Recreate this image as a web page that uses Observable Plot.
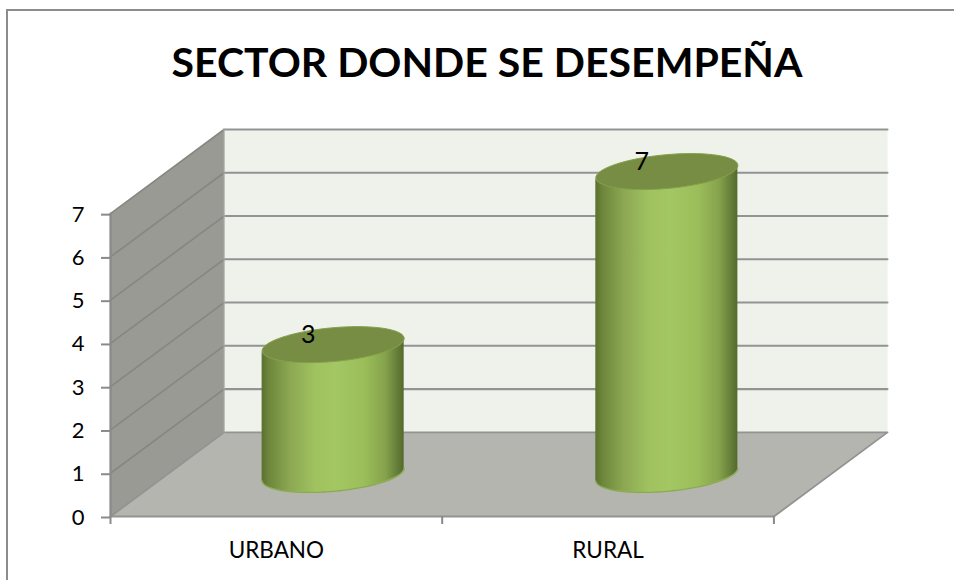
<!DOCTYPE html>
<html>
<head>
<meta charset="utf-8">
<script src="https://cdn.jsdelivr.net/npm/d3@7"></script>
<script src="https://cdn.jsdelivr.net/npm/@observablehq/plot@0.6"></script>
<style>
  html, body { margin: 0; padding: 0; background: #fff; overflow: hidden; }
  #page { position: relative; width: 954px; height: 580px; overflow: hidden; font-family: Lato, "Open Sans", sans-serif; }
  #frame { position: absolute; left: 6px; top: 9px; width: 1000px; height: 620px; border: 2px solid #8c8c8c; box-sizing: content-box; }
  #title { position: absolute; left: 0; top: 0; width: 954px; height: 100px; margin: 0; text-align: center; padding-left: 20px; box-sizing: border-box;
           font: 700 41px/124px Lato, sans-serif; color: #000; }
  #chart { position: absolute; left: 0; top: 100px; }
  #chart svg { display: block; }
</style>
</head>
<body>
<div id="page">
  <div id="frame"></div>
  <h1 id="title">SECTOR DONDE SE DESEMPEÑA</h1>
  <div id="chart"></div>
</div>
<script>
const categories = ["URBANO", "RURAL"];
const values = [3, 7];
const barPositions = [0, 1.006];
const yTicks = [0, 1, 2, 3, 4, 5, 6, 7];
const gridValues = [1, 2, 3, 4, 5, 6, 7];

// 3D box, in data units: how far the back plane is shifted from the front plane.
const depthX = 0.3424;
const depthY = 1.945;
const xMin = -0.5, xMax = 1.5, yMax = 7;
const radiusX = 0.2012, radiusDepth = 0.214, centerDepth = 0.5;

const project = (x, y, d) => ({x: x + d * depthX, y: y + d * depthY});
const poly = (corners) => corners.map(([x, y, d]) => project(x, y, d));

const leftWall = poly([[xMin,0,0],[xMin,yMax,0],[xMin,yMax,1],[xMin,0,1]]);
const backWall = poly([[xMin,0,1],[xMin,yMax,1],[xMax,yMax,1],[xMax,0,1]]);
const floor = poly([[xMin,0,0],[xMax,0,0],[xMax,0,1],[xMin,0,1]]);

const wallLines = gridValues.flatMap(v => poly([[xMin,v,0],[xMin,v,1]]).map(p => ({...p, v})));
const backLines = gridValues.flatMap(v => poly([[xMin,v,1],[xMax,v,1]]).map(p => ({...p, v})));

const rim = (cat, val, t0, t1) => d3.range(t0, t1 + 1e-6, (t1 - t0) / 72).map(deg => {
  const t = deg * Math.PI / 180;
  return project(cat + radiusX * Math.cos(t), val, centerDepth + radiusDepth * Math.sin(t));
});
const FRONT0 = 200, FRONT1 = 380;

const bars = categories.map((name, i) => ({name, pos: barPositions[i], value: values[i]}));
const sides = bars.flatMap(b => rim(b.pos, 0, FRONT0, FRONT1).map(p => ({x: p.x, y1: p.y, y2: p.y + b.value, name: b.name})));
const tops = bars.flatMap(b => rim(b.pos, b.value, 0, 360).map(p => ({...p, name: b.name})));
const bottoms = bars.flatMap(b => rim(b.pos, 0, FRONT0, FRONT1).map(p => ({...p, name: b.name})));
const labels = bars.map(b => ({...project(b.pos, b.value, centerDepth), text: String(b.value)}));

const gradient = () => {
  const defs = d3.create("svg:defs");
  const g = defs.append("linearGradient").attr("id", "cyl").attr("x1", 0).attr("x2", 1).attr("y1", 0).attr("y2", 0);
  [[0,"#5a7030"],[0.05,"#6d863b"],[0.2,"#8ca853"],[0.38,"#a0c25f"],[0.52,"#a3c762"],[0.72,"#9bbe5a"],[0.87,"#86a34c"],[0.95,"#66803a"],[1,"#54692b"]]
    .forEach(([o, c]) => g.append("stop").attr("offset", o).attr("stop-color", c));
  return defs.node();
};

const GRID = "#939393";
const chart = Plot.plot({
  width: 954,
  height: 480,
  marginLeft: 110,
  marginRight: 67,
  marginTop: 29,
  marginBottom: 64,
  style: {background: "transparent", fontFamily: "Lato, sans-serif", overflow: "visible"},
  x: {domain: [xMin, xMax + depthX], axis: null},
  y: {domain: [0, yMax + depthY], axis: null},
  marks: [
    gradient,
    Plot.line(leftWall, {x: "x", y: "y", fill: "#989a93", stroke: null}),
    Plot.line(backWall, {x: "x", y: "y", fill: "#eff2eb", stroke: null}),
    Plot.line(floor, {x: "x", y: "y", fill: "#b3b5ae", stroke: null}),
    Plot.line(wallLines, {x: "x", y: "y", z: "v", stroke: "#858782", strokeWidth: 1.6}),
    Plot.line(backLines, {x: "x", y: "y", z: "v", stroke: GRID, strokeWidth: 2.1}),
    Plot.line([...floor, floor[0]], {x: "x", y: "y", stroke: GRID, strokeWidth: 1.8}),
    Plot.line([project(xMin,0,0), project(xMin,yMax,0)], {x: "x", y: "y", stroke: "#8a8a8a", strokeWidth: 2.2}),
    Plot.line([project(xMin,0,1), project(xMin,yMax,1)], {x: "x", y: "y", stroke: "#a8a8a8", strokeWidth: 1.2}),
    Plot.areaY(sides, {x: "x", y1: "y1", y2: "y2", z: "name", fill: "url(#cyl)", curve: "linear"}),
    Plot.line(bottoms, {x: "x", y: "y", z: "name", stroke: "#8aab4c", strokeWidth: 1.3}),
    Plot.line(tops, {x: "x", y: "y", z: "name", fill: "#768d43", stroke: "#84a04c", strokeWidth: 1}),
    Plot.text(labels, {x: "x", y: "y", text: "text", dx: -25, dy: -10, fontSize: 25, fill: "#000"}),
    Plot.axisY({ticks: yTicks, anchor: "left", tickSize: 9, tickPadding: 17, dy: 1, stroke: "#8a8a8a", strokeWidth: 2, fontSize: 22, fill: "#000", tickFormat: d3.format("d"), label: null}),
    Plot.axisX({ticks: [xMin, (xMin + xMax) / 2, xMax], anchor: "bottom", tickSize: 8, stroke: "#8a8a8a", strokeWidth: 2, tickFormat: () => "", label: null}),
    Plot.axisX({ticks: categories.map((_, i) => i), anchor: "bottom", tickSize: 0, tickPadding: 26, fontSize: 22.5, fill: "#000", tickFormat: i => categories[i], label: null})
  ]
});
document.getElementById("chart").appendChild(chart);
</script>
</body>
</html>
